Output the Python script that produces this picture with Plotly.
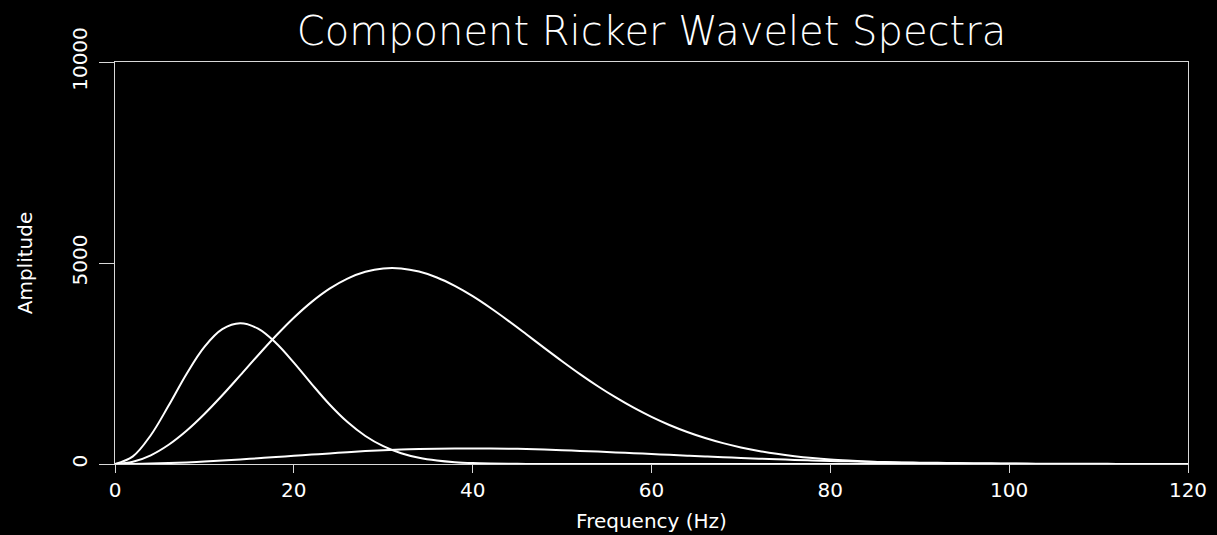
import plotly.graph_objects as go

# Frequency samples (Hz)
freq = [0, 2, 4, 6, 8, 10, 12, 14, 16, 18, 20, 22, 24, 26, 28, 30, 32, 34, 36, 38,
        40, 42, 44, 46, 48, 50, 52, 54, 56, 58, 60, 62, 64, 66, 68, 70, 72, 74, 76, 78,
        80, 82, 84, 86, 88, 90, 92, 94, 96, 98, 100, 102, 104, 106, 108, 110, 112, 114,
        116, 118, 120]

# Low-frequency component (peak near 14 Hz)
amp_low = [0, 190, 716, 1454, 2241, 2914, 3353, 3500, 3366, 3011, 2523, 1989, 1480,
           1043, 697, 443, 267, 154, 85, 44, 22, 11, 5, 2, 1, 0, 0, 0, 0, 0, 0, 0, 0,
           0, 0, 0, 0, 0, 0, 0, 0, 0, 0, 0, 0, 0, 0, 0, 0, 0, 0, 0, 0, 0, 0, 0, 0, 0,
           0, 0, 0]

# Mid-frequency component (peak near 31 Hz)
amp_mid = [0, 55, 217, 478, 826, 1243, 1709, 2204, 2705, 3189, 3638, 4033, 4362, 4613,
           4781, 4865, 4865, 4787, 4640, 4431, 4175, 3880, 3561, 3227, 2889, 2557, 2236,
           1934, 1655, 1400, 1172, 971, 796, 646, 519, 413, 325, 253, 195, 149, 113, 85,
           63, 46, 34, 24, 17, 12, 8, 6, 4, 3, 2, 1, 1, 0, 0, 0, 0, 0, 0]

# Weak broadband component (peak near 40 Hz)
amp_high = [0, 3, 10, 23, 40, 61, 86, 113, 143, 173, 204, 234, 263, 295, 322, 345, 362,
            373, 380, 385, 387, 386, 381, 372, 360, 345, 326, 308, 289, 269, 248, 228,
            207, 187, 168, 150, 133, 117, 102, 89, 77, 66, 56, 48, 40, 34, 28, 23, 19,
            16, 13, 10, 8, 6, 5, 4, 3, 2, 2, 1, 1]

x_ticks = [0, 20, 40, 60, 80, 100, 120]
y_ticks = [0, 5000, 10000]

FONT = "DejaVu Sans"
AXIS_COLOR = "#d8d8d8"

fig = go.Figure()
for series in (amp_low, amp_mid, amp_high):
    fig.add_trace(go.Scatter(
        x=freq, y=series, mode="lines",
        line=dict(color="white", width=2, shape="spline", smoothing=1.0),
        hoverinfo="skip", showlegend=False,
    ))

fig.update_layout(
    width=1217, height=535,
    paper_bgcolor="black", plot_bgcolor="black",
    margin=dict(l=115, r=29, t=62, b=71, autoexpand=False),
    font=dict(family=FONT, color="white", size=20),
    title=dict(
        text="Component Ricker Wavelet Spectra",
        font=dict(family=FONT, size=40, color="white", weight=200),
        x=0.5, xanchor="center", xref="paper",
        y=1 - 31 / 535, yanchor="middle", yref="container",
    ),
    showlegend=False,
)

fig.update_xaxes(
    range=[0, 120], tickvals=x_ticks, ticktext=[str(v) for v in x_ticks],
    showgrid=False, zeroline=False, automargin=False,
    showline=True, linecolor=AXIS_COLOR, linewidth=1, mirror=True,
    ticks="outside", ticklen=8, tickwidth=1, tickcolor=AXIS_COLOR,
    tickfont=dict(family=FONT, size=20, color="white"),
    title=dict(text="Frequency (Hz)",
               font=dict(family=FONT, size=20, color="white"),
               standoff=12),
)

fig.update_yaxes(
    range=[0, 10000], tickvals=y_ticks, ticktext=[str(v) for v in y_ticks],
    showgrid=False, zeroline=False, automargin=False,
    showline=True, linecolor=AXIS_COLOR, linewidth=1, mirror=True,
    ticks="outside", ticklen=15, tickwidth=1, tickcolor=AXIS_COLOR,
    tickangle=-90, ticklabelstandoff=4,
    tickfont=dict(family=FONT, size=20, color="white"),
    title=dict(text="Amplitude",
               font=dict(family=FONT, size=20, color="white"),
               standoff=30),
)

fig.write_html("out.html")
